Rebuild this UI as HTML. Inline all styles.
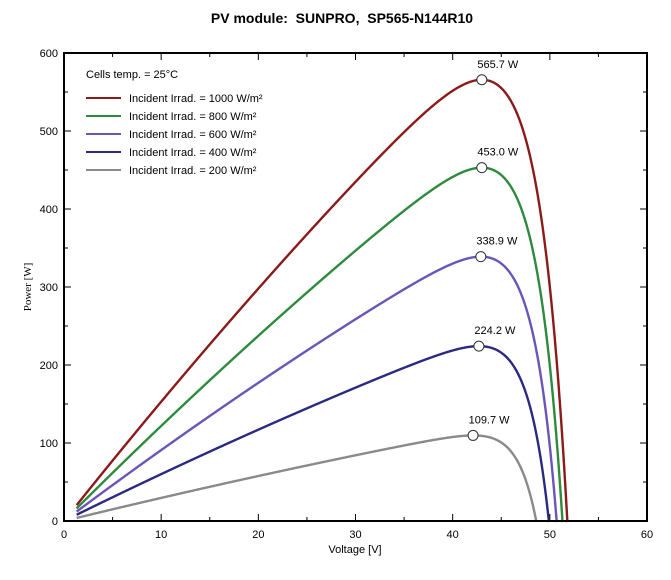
<!DOCTYPE html>
<html><head><meta charset="utf-8"><style>
body{margin:0;background:#fff;width:671px;height:575px;overflow:hidden}
svg{font-family:"Liberation Sans",sans-serif}
</style></head><body>
<svg id="s" width="671" height="575" xmlns="http://www.w3.org/2000/svg">
<text x="342" y="23" text-anchor="middle" font-size="14" font-weight="bold" xml:space="preserve">PV module:  SUNPRO,  SP565-N144R10</text>
<text transform="translate(31,287) rotate(-90)" text-anchor="middle" font-size="11" font-family="Liberation Serif,serif">Power [W]</text>
<text x="355" y="553" text-anchor="middle" font-size="11">Voltage [V]</text>
<g id="ax"></g>
<g id="cv"></g>
<rect x="64" y="53" width="583" height="468" fill="none" stroke="#000" stroke-width="2"/>
<text x="86" y="78" font-size="11">Cells temp. = 25°C</text>
<g font-size="11">
<line x1="86" y1="98" x2="121" y2="98" stroke="#8b1a1a" stroke-width="2"/><text x="129" y="102">Incident Irrad. = 1000 W/m²</text>
<line x1="86" y1="116" x2="121" y2="116" stroke="#2e8b3e" stroke-width="2"/><text x="129" y="120">Incident Irrad. = 800 W/m²</text>
<line x1="86" y1="134" x2="121" y2="134" stroke="#6a55b8" stroke-width="2"/><text x="129" y="138">Incident Irrad. = 600 W/m²</text>
<line x1="86" y1="152" x2="121" y2="152" stroke="#2a2a80" stroke-width="2"/><text x="129" y="156">Incident Irrad. = 400 W/m²</text>
<line x1="86" y1="170" x2="121" y2="170" stroke="#8a8a8a" stroke-width="2"/><text x="129" y="174">Incident Irrad. = 200 W/m²</text>
</g>
</svg>
<script>
var NS="http://www.w3.org/2000/svg";
function px(v){return 64+v*583/60}
function py(p){return 521-p*468/600}
function el(t,a,p,txt){var e=document.createElementNS(NS,t);for(var k in a)e.setAttribute(k,a[k]);if(txt!==undefined)e.textContent=txt;p.appendChild(e);return e}
var ax=document.getElementById('ax'),cv=document.getElementById('cv');
for(var v=0;v<=60;v+=5){var L=v%10==0?7:4;
el('line',{x1:px(v),x2:px(v),y1:521,y2:521-L,stroke:'#000'},ax);
el('line',{x1:px(v),x2:px(v),y1:53,y2:53+L,stroke:'#000'},ax);
if(v%10==0)el('text',{x:px(v),y:538,'text-anchor':'middle','font-size':11},ax,String(v));}
for(var p=0;p<=600;p+=50){var L=p%100==0?7:4;
el('line',{x1:64,x2:64+L,y1:py(p),y2:py(p),stroke:'#000'},ax);
el('line',{x1:647,x2:647-L,y1:py(p),y2:py(p),stroke:'#000'},ax);
if(p%100==0)el('text',{x:58,y:py(p)+4,'text-anchor':'end','font-size':11},ax,String(p));}
var C=[[51.8,43.0,565.7,'#8b1a1a'],[51.3,43.0,453.0,'#2e8b3e'],[50.7,42.9,338.9,'#6a55b8'],[49.9,42.7,224.2,'#2a2a80'],[48.6,42.1,109.7,'#8a8a8a']];
var b=0.0025;
C.forEach(function(c){var Voc=c[0],Vmp=c[1],Pm=c[2];
function P(V,a){return V*(1-b*V)*(1-Math.exp((V-Voc)/a))}
var best=1,bd=1e9;
for(var a=0.2;a<15;a+=0.01){var mv=0,mp=-1;for(var V=30;V<Voc;V+=0.02){var q=P(V,a);if(q>mp){mp=q;mv=V}}var d=Math.abs(mv-Vmp);if(d<bd){bd=d;best=a}}
var mp=0;for(var V=30;V<Voc;V+=0.01)mp=Math.max(mp,P(V,best));var k=Pm/mp;
var d='';for(var V=1.3;V<=Voc;V+=0.05){d+=(d?'L':'M')+px(V).toFixed(2)+','+py(k*P(V,best)).toFixed(2)}
d+='L'+px(Voc)+','+py(0);
el('path',{d:d,fill:'none',stroke:c[3],'stroke-width':2.4},cv);
el('circle',{cx:px(Vmp),cy:py(Pm),r:5,fill:'#fff',stroke:'#333','stroke-width':1},cv);
el('text',{x:px(Vmp)+16,y:py(Pm)-12,'text-anchor':'middle','font-size':11},cv,Pm.toFixed(1)+' W');
});
</script>
</body></html>
